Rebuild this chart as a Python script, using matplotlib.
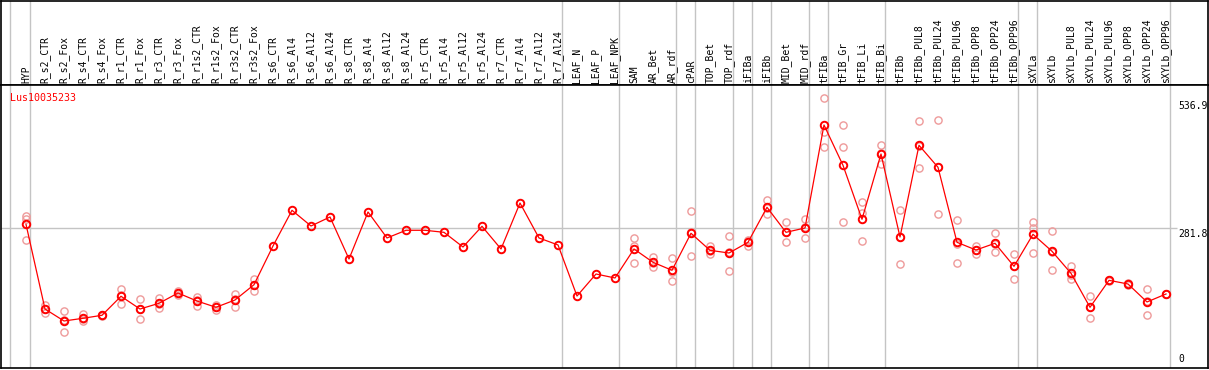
import matplotlib
matplotlib.use("Agg")
import matplotlib.pyplot as plt

samples = [
    "HYP", "R_s2_CTR", "R_s2_Fox", "R_s4_CTR", "R_s4_Fox", "R_r1_CTR", "R_r1_Fox",
    "R_r3_CTR", "R_r3_Fox", "R_r1s2_CTR", "R_r1s2_Fox", "R_r3s2_CTR", "R_r3s2_Fox",
    "R_s6_CTR", "R_s6_Al4", "R_s6_Al12", "R_s6_Al24", "R_s8_CTR", "R_s8_Al4",
    "R_s8_Al12", "R_s8_Al24", "R_r5_CTR", "R_r5_Al4", "R_r5_Al12", "R_r5_Al24",
    "R_r7_CTR", "R_r7_Al4", "R_r7_Al12", "R_r7_Al24", "LEAF_N", "LEAF_P", "LEAF_NPK",
    "SAM", "AR_Bet", "AR_rdf", "cPAR", "TOP_Bet", "TOP_rdf", "iFIBa", "iFIBb",
    "MID_Bet", "MID_rdf", "tFIBa", "tFIB_Gr", "tFIB_Li", "tFIB_Bi", "tFIBb",
    "tFIBb_PUL8", "tFIBb_PUL24", "tFIBb_PUL96", "tFIBb_OPP8", "tFIBb_OPP24",
    "tFIBb_OPP96", "sXYLa", "sXYLb", "sXYLb_PUL8", "sXYLb_PUL24", "sXYLb_PUL96",
    "sXYLb_OPP8", "sXYLb_OPP24", "sXYLb_OPP96",
]

means = [
    289.6, 123.4, 99.9, 105.2, 111.1, 148.4, 123.4, 134.6, 154.8, 139.1, 126.8,
    141.1, 171.1, 247.1, 317.1, 286.3, 304.0, 221.5, 313.8, 262.8, 277.9, 277.9,
    273.9, 245.1, 285.7, 241.2, 331.4, 262.8, 249.1, 148.9, 192.1, 184.3, 241.2,
    215.1, 199.4, 272.0, 238.6, 233.3, 254.3, 323.0, 273.9, 282.4, 484.5, 405.4,
    299.5, 427.6, 264.7, 444.7, 401.5, 254.3, 239.2, 252.4, 207.2, 270.0, 236.7,
    193.5, 126.8, 179.7, 172.5, 137.2, 152.9,
]

replicates = [
    [305.9, 299.5, 258.8], [131.3, 115.0, 123.0], [119.5, 77.7, 102.0],
    [113.6, 99.3, 103.0], [111.0, 112.0, 110.0], [162.1, 132.7, 150.0],
    [142.5, 103.2, 124.0], [144.4, 125.4, 134.0], [154.8, 151.5, 158.0],
    [147.6, 128.7, 141.0], [127.9, 121.5, 131.0], [152.9, 126.8, 143.0],
    [182.9, 159.3, 171.0],
    None, None, None, None, None, None, None, None, None, None, None, None,
    None, None, None, None, None, None, None,
    [262.8, 247.6, 213.7], [225.5, 205.3, 214.5], [223.5, 177.8, 197.0],
    [315.1, 226.8, 274.0], [246.5, 231.4, 238.0], [266.7, 197.4, 236.0],
    [259.4, 247.6, 256.0], [337.3, 309.3, 322.5], [293.6, 254.3, 273.8],
    [300.0, 262.2, 285.0], [536.9, 471.3, 440.7], [483.9, 440.7, 293.6],
    [332.8, 312.4, 256.3], [444.7, 408.0, 430.0], [317.1, 211.7, 265.0],
    [491.8, 399.5, 443.0], [493.7, 309.3, 401.5], [298.1, 213.7, 251.0],
    [247.6, 230.8, 239.0], [272.0, 234.7, 250.5], [231.4, 181.7, 208.5],
    [294.1, 282.4, 232.7], [275.9, 199.4, 235.0], [207.8, 181.7, 191.0],
    [148.4, 105.2, 126.8], [179.7, 180.5, 179.0], [172.5, 171.5, 173.5],
    [162.1, 111.1, 138.4], [152.9, 152.0, 153.8],
]

# last column of each group (separator drawn just after it)
group_ends = [-1, 0, 28, 31, 34, 35, 37, 38, 39, 41, 42, 45, 52, 53, 60]
gene = "Lus10035233"
y_max, y_mid, y_min = 536.9, 281.8, 0

W, H = 1209, 370
MONO = "DejaVu Sans Mono"
RED = "#ff0000"
REP = "#ee9a9a"
GRID = "#c4c4c4"

fig = plt.figure(figsize=(W / 100, H / 100), dpi=100)
x_lim = (-25 / 19, (1208 - 26) / 19)

head = fig.add_axes([1 / W, 285 / H, 1207 / W, 84.5 / H])
ax = fig.add_axes([1 / W, 1.7 / H, 1207 / W, 283.3 / H])

for a in (head, ax):
    a.set_xlim(*x_lim)
    a.set_xticks([])
    a.set_yticks([])
    for s in a.spines.values():
        s.set_linewidth(1.2)
        s.set_color("black")
    for g in group_ends:
        off = 0.17 if g < 0 else 0.23
        a.axvline(g + off, color=GRID, lw=1.0, zorder=0)

head.set_ylim(85, 0)
for i, name in enumerate(samples):
    head.text(i, 83, name, rotation=90, ha="center", va="bottom",
              family=MONO, fontsize=7, color="black")

ax.set_ylim(7.06, 563.0)
ax.hlines(y_mid, x_lim[0], len(samples) - 0.42, color=GRID, lw=1.0, zorder=0)

xs = range(len(samples))
for i, reps in enumerate(replicates):
    if reps is None:
        continue
    ax.plot([i] * len(reps), reps, linestyle="none", marker="o", ms=5.2,
            mfc="none", mec=REP, mew=1.0, zorder=2)

ax.plot(xs, means, color=RED, lw=0.9, marker="o", ms=5.4, mfc="none",
        mec=RED, mew=1.4, zorder=3)

ax.text(0.0077, 0.972, gene, transform=ax.transAxes, ha="left", va="top",
        family=MONO, fontsize=7.2, color=RED)

lab_x = (1178 - 26) / 19
ax.annotate(f"{y_max:g}", (lab_x, y_max), xytext=(0, -3), textcoords="offset pixels",
            ha="left", va="top", family=MONO, fontsize=7, color="black")
ax.annotate(f"{y_mid:g}", (lab_x, y_mid), xytext=(0, -1), textcoords="offset pixels",
            ha="left", va="top", family=MONO, fontsize=7, color="black")
ax.annotate(f"{y_min:g}", (lab_x, 0), xycoords=("data", "axes fraction"),
            xytext=(0, 4), textcoords="offset pixels",
            ha="left", va="bottom", family=MONO, fontsize=7, color="black")

fig.savefig("out.png", dpi=100, facecolor="white")
